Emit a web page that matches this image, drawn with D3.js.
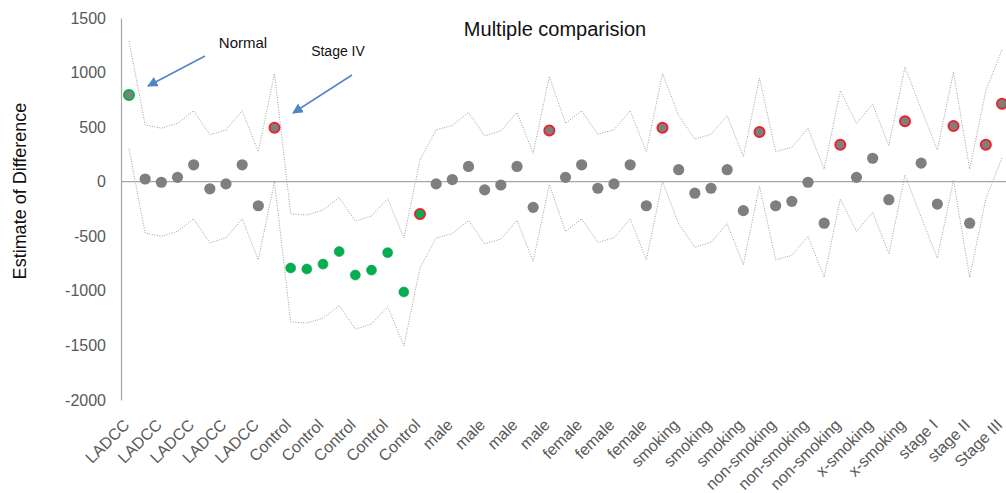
<!DOCTYPE html>
<html>
<head>
<meta charset="utf-8">
<script src="https://cdn.jsdelivr.net/npm/d3@7"></script>
<style>
  html, body { margin: 0; padding: 0; background: #fff; }
  svg { display: block; font-family: "Liberation Sans", Arial, sans-serif; }
</style>
</head>
<body>
<svg id="chart" width="1006" height="493"></svg>
<script>
// ---- data ----
const groupNames = ["LADCC", "Control", "male", "female", "smoking", "non-smoking", "x-smoking", "stage I", "stage II", "Stage III"];
const groupSizes = [10, 9, 8, 7, 6, 5, 4, 3, 2, 1];

const estimate = [795, 25, -5, 40, 155, -65, -20, 155, -220, 495,
  -790, -800, -755, -640, -855, -810, -650, -1010, -295,
  -20, 20, 140, -75, -30, 140, -235, 470,
  40, 155, -60, -20, 155, -220, 495,
  110, -105, -60, 110, -265, 455,
  -220, -180, -5, -380, 338,
  40, 215, -165, 555,
  170, -205, 510,
  -380, 338,
  715];

const upper = [1290, 520, 490, 535, 650, 430, 475, 650, 275, 990,
  -295, -305, -260, -145, -360, -315, -155, -515, 200,
  475, 515, 635, 420, 465, 635, 260, 965,
  535, 650, 435, 475, 650, 275, 990,
  605, 390, 435, 605, 230, 950,
  275, 315, 490, 115, 833,
  535, 710, 330, 1050,
  665, 290, 1005,
  115, 833,
  1210];

const lower = [300, -470, -500, -455, -340, -560, -515, -340, -715, 0,
  -1285, -1295, -1250, -1135, -1350, -1305, -1145, -1505, -790,
  -515, -475, -355, -570, -525, -355, -730, -25,
  -455, -340, -555, -515, -340, -715, 0,
  -385, -600, -555, -385, -760, -40,
  -715, -675, -500, -875, -157,
  -455, -280, -660, 60,
  -325, -700, 15,
  -875, -157,
  220];

// marker flags (indices)
const greenFillIdx = [10, 11, 12, 13, 14, 15, 16, 17, 18];
const greenRingIdx = [0];
const redRingIdx = [9, 18, 26, 33, 39, 44, 48, 51, 53, 54];

const yTicks = [1500, 1000, 500, 0, -500, -1000, -1500, -2000];
const title = "Multiple comparision";
const yTitle = "Estimate of Difference";
const annotations = [
  { text: "Normal", target: 0 },
  { text: "Stage IV", target: 9 }
];

// category labels built from groups
const categories = [];
groupNames.forEach((g, gi) => { for (let k = 0; k < groupSizes[gi]; k++) categories.push(g); });
const idx = d3.range(categories.length);

// ---- drawing ----
const svg = d3.select("#chart");
const x = d3.scalePoint().domain(idx).range([129, 1002]);
const y = d3.scaleLinear().domain([-2000, 1500]).range([400, 18]);
const axisX0 = 121;

// y axis
const yAxis = d3.axisLeft(y).tickValues(yTicks).tickSize(0).tickPadding(15).tickFormat(d => String(d));
const gy = svg.append("g").attr("transform", `translate(${axisX0},0)`).call(yAxis);
gy.select(".domain").attr("stroke", "#a6a6a6").attr("stroke-width", 1.2);
gy.selectAll("text").attr("font-size", 16).attr("fill", "#595959").attr("font-family", "Liberation Sans, Arial, sans-serif");

// zero line
svg.append("line")
  .attr("x1", axisX0).attr("x2", 1006)
  .attr("y1", y(0)).attr("y2", y(0))
  .attr("stroke", "#a6a6a6").attr("stroke-width", 1.2);

// x axis labels (every other category)
const xAxis = d3.axisBottom(x)
  .tickValues(idx.filter(i => i % 2 === 0))
  .tickSize(0)
  .tickFormat(i => categories[i]);
const gx = svg.append("g").attr("transform", `translate(0,${y(-2000)})`).call(xAxis);
gx.select(".domain").remove();
gx.selectAll("text")
  .attr("font-size", 16)
  .attr("fill", "#595959")
  .attr("font-family", "Liberation Sans, Arial, sans-serif")
  .attr("text-anchor", "end")
  .attr("dy", "0.35em")
  .attr("transform", "translate(-3,22) rotate(-45)")
  .attr("y", 0).attr("x", 0);

// confidence bands (dotted)
const lineGen = d3.line().x((d, i) => x(i)).y(d => y(d));
[upper, lower].forEach(arr => {
  svg.append("path")
    .attr("d", lineGen(arr))
    .attr("fill", "none")
    .attr("stroke", "#a0a0a0")
    .attr("stroke-width", 1)
    .attr("stroke-dasharray", "1,1.5");
});

// points
svg.append("g").selectAll("circle")
  .data(idx)
  .join("circle")
  .attr("cx", i => x(i))
  .attr("cy", i => y(estimate[i]))
  .attr("r", i => (greenRingIdx.includes(i) || redRingIdx.includes(i)) ? 5 : (greenFillIdx.includes(i) ? 5 : 5.6))
  .attr("fill", i => greenFillIdx.includes(i) ? "#00b050" : "#7f7f7f")
  .attr("stroke", i => redRingIdx.includes(i) ? "#e8242c" : (greenRingIdx.includes(i) ? "#00b050" : (greenFillIdx.includes(i) ? "#2e9a55" : "none")))
  .attr("stroke-width", i => (redRingIdx.includes(i) || greenRingIdx.includes(i)) ? 2 : 0.6);

// title
svg.append("text")
  .attr("x", 555).attr("y", 36)
  .attr("text-anchor", "middle")
  .attr("font-size", 20)
  .attr("fill", "#111")
  .text(title);

// y title
svg.append("text")
  .attr("transform", `translate(26,191) rotate(-90)`)
  .attr("text-anchor", "middle")
  .attr("font-size", 18)
  .attr("fill", "#111")
  .text(yTitle);

// annotations with arrows
const defs = svg.append("defs");
defs.append("marker")
  .attr("id", "arrow")
  .attr("viewBox", "0 0 10 10")
  .attr("refX", 9).attr("refY", 5)
  .attr("markerWidth", 7).attr("markerHeight", 7)
  .attr("orient", "auto-start-reverse")
  .append("path").attr("d", "M0,0 L10,5 L0,10 z").attr("fill", "#4f86c6");

const annotationLayout = [
  { tx: 243, ty: 48, size: 15, x1: 205, y1: 56, x2: 148, y2: 86 },
  { tx: 338, ty: 56, size: 14, x1: 352, y1: 75, x2: 293, y2: 113 }
];
annotations.forEach((a, k) => {
  const L = annotationLayout[k];
  svg.append("text").attr("x", L.tx).attr("y", L.ty)
    .attr("text-anchor", "middle").attr("font-size", L.size).attr("fill", "#111").text(a.text);
  svg.append("line")
    .attr("x1", L.x1).attr("y1", L.y1).attr("x2", L.x2).attr("y2", L.y2)
    .attr("stroke", "#4f86c6").attr("stroke-width", 1.5)
    .attr("marker-end", "url(#arrow)");
});
</script>
</body>
</html>
